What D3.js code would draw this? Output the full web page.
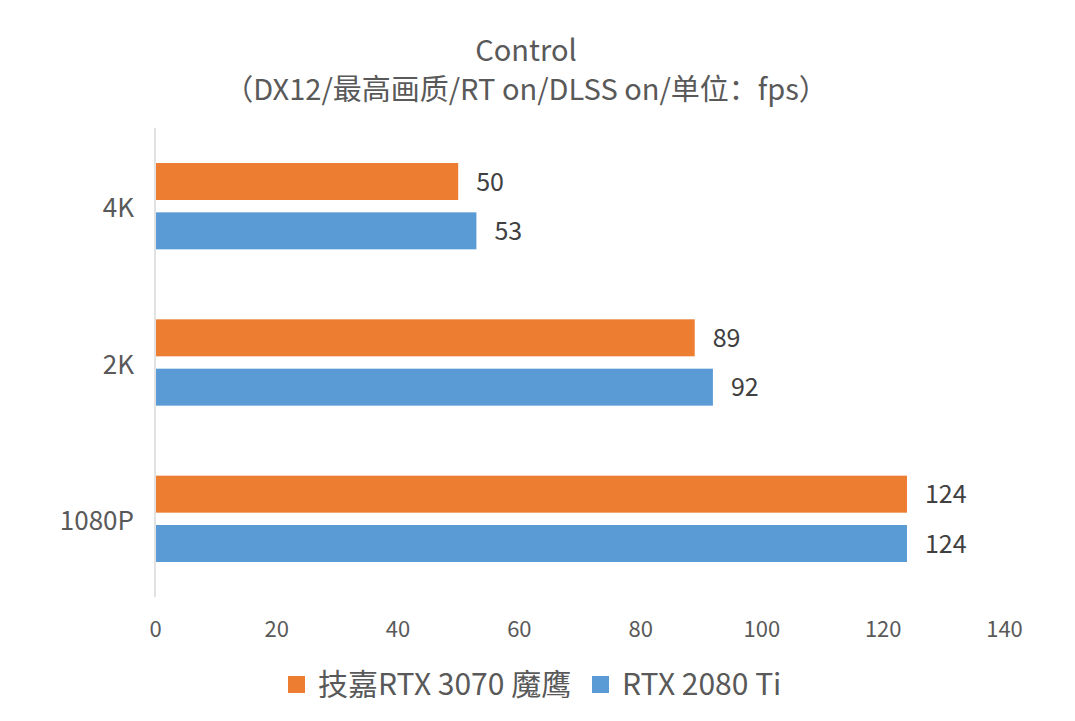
<!DOCTYPE html>
<html><head><meta charset="utf-8">
<script src="https://cdn.jsdelivr.net/npm/d3@7"></script>
<style>body{margin:0;background:#fff;} text{font-family:"Noto Sans CJK SC","Noto Sans",sans-serif;}</style>
</head><body><svg id="c" width="1075" height="721"></svg>
<script>
const categories = ["4K", "2K", "1080P"];
const seriesNames = ["技嘉RTX 3070 魔鹰", "RTX 2080 Ti"];
const series3070 = [50, 89, 124];
const series2080 = [53, 92, 124];
const xTicks = [0, 20, 40, 60, 80, 100, 120, 140];
const colors = ["#ED7D31", "#5B9BD5"];

(function(){
const svg = d3.select("#c");
const ff = '"Noto Sans CJK SC","Noto Sans",sans-serif';
const pLeft = 155, pRight = 1004, pTop = 128, pBottom = 597;
const x = d3.scaleLinear().domain([0, 140]).range([pLeft, pRight]);
const y = d3.scaleBand().domain(categories).range([pTop, pBottom]).paddingInner(0).paddingOuter(0);
const inner = d3.scaleBand().domain([0, 1]).range([35, y.bandwidth() - 35]).paddingInner(0.25);

// title
svg.append("text").attr("x", 526).attr("y", 61).attr("text-anchor", "middle")
  .attr("font-size", 29).attr("fill", "#595959").text("Control");
svg.append("text").attr("x", 526).attr("y", 100).attr("text-anchor", "middle")
  .attr("font-size", 29).attr("fill", "#595959").text("（DX12/最高画质/RT on/DLSS on/单位：fps）");

// axis line
svg.append("line").attr("x1", x(0)).attr("x2", x(0)).attr("y1", pTop).attr("y2", pBottom)
  .attr("stroke", "#D9D9D9").attr("stroke-width", 1.5);

// x tick labels
const xAxis = d3.axisBottom(x).tickValues(xTicks).tickSize(0).tickPadding(0);
const gx = svg.append("g").attr("transform", `translate(0,${pBottom + 40})`).call(xAxis);
gx.select(".domain").remove();
gx.selectAll("text").attr("font-size", 22).attr("fill", "#595959").attr("dy", 0)
  .style("font-family", ff);

// y labels
const yAxis = d3.axisLeft(y).tickSize(0).tickPadding(21);
const gy = svg.append("g").attr("transform", `translate(${pLeft},0)`).call(yAxis);
gy.select(".domain").remove();
gy.selectAll("text").attr("font-size", 26).attr("fill", "#595959").attr("dy", 0)
  .attr("y", 11).style("font-family", ff);

const data = [series3070, series2080];
data.forEach((vals, si) => {
  const g = svg.append("g");
  g.selectAll("rect").data(vals).join("rect")
    .attr("x", x(0) + 1)
    .attr("y", (d, i) => y(categories[i]) + inner(si))
    .attr("width", d => x(d) - x(0) - 1)
    .attr("height", inner.bandwidth())
    .attr("fill", colors[si]);
  g.selectAll("text").data(vals).join("text")
    .attr("x", d => x(d) + 18)
    .attr("y", (d, i) => y(categories[i]) + inner(si) + inner.bandwidth() / 2 + 9)
    .attr("font-size", 25).attr("fill", "#404040").text(d => d);
});

// legend
const lg = svg.append("g");
const legendX = [288, 592];
seriesNames.forEach((n, i) => {
  lg.append("rect").attr("x", legendX[i]).attr("y", 676).attr("width", 17).attr("height", 17).attr("fill", colors[i]);
  lg.append("text").attr("x", legendX[i] + 30).attr("y", 695).attr("font-size", 30).attr("fill", "#595959").text(n);
});
})();
</script></body></html>
